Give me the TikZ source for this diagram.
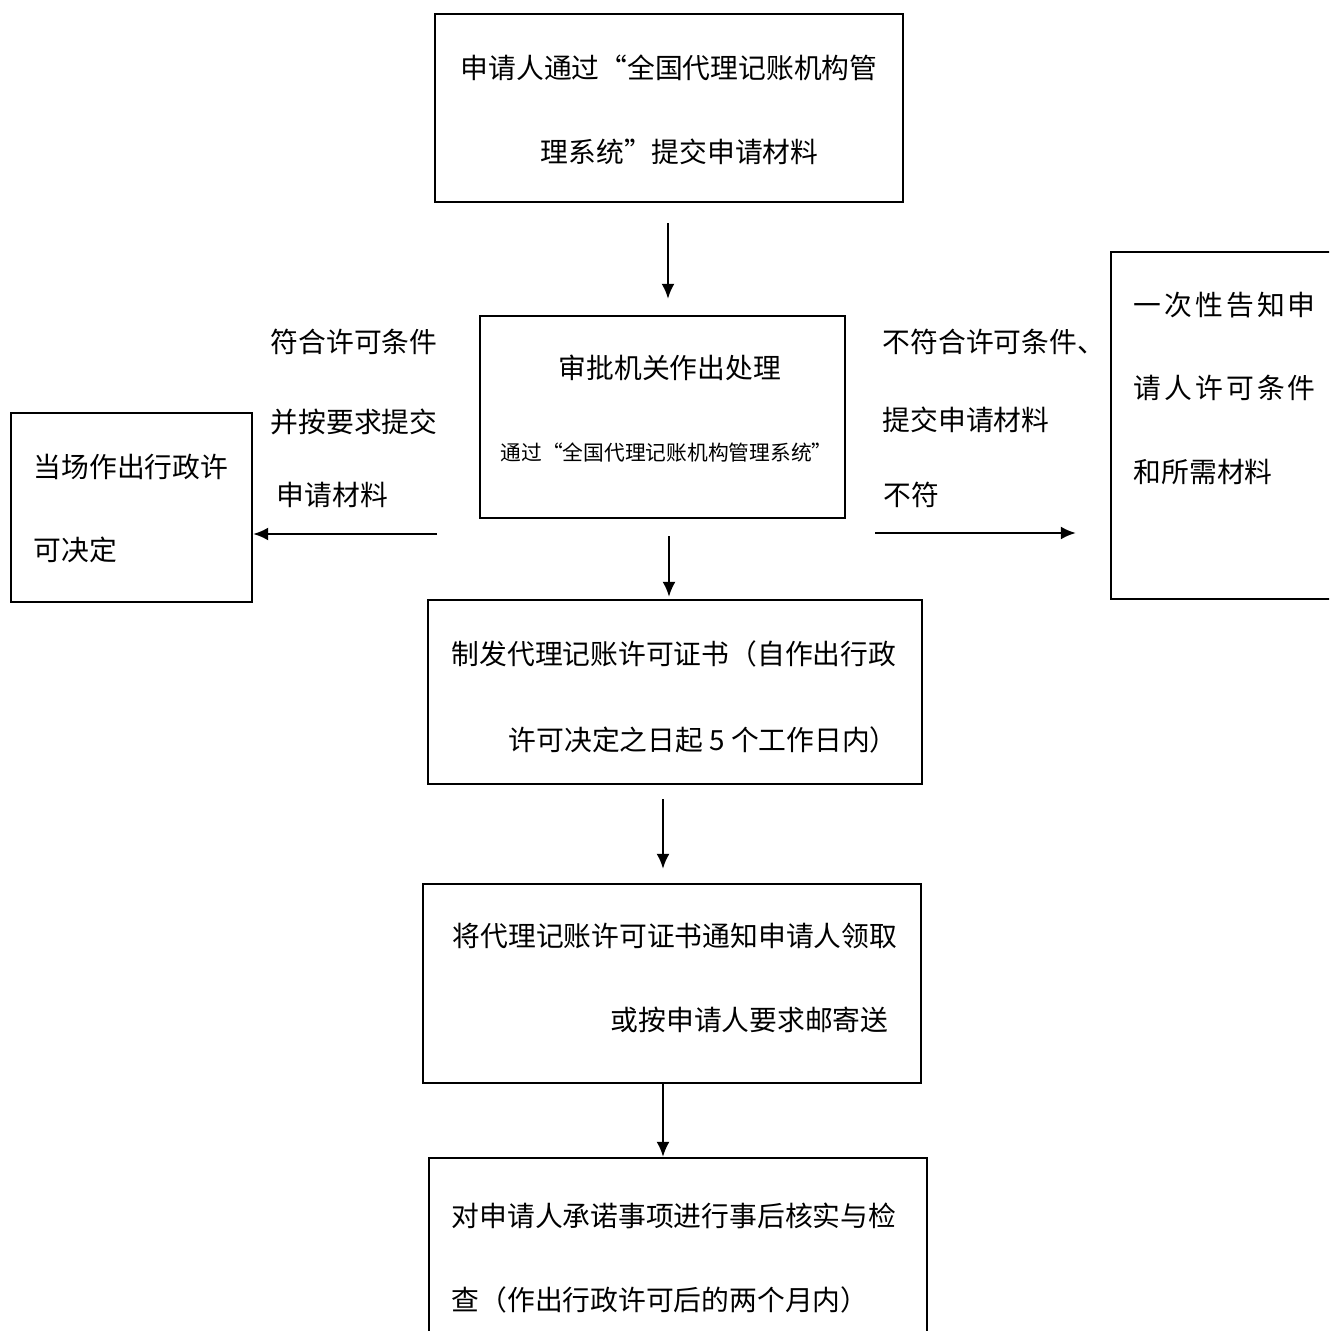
\documentclass[tikz,border=0pt]{standalone}
\usepackage{fontspec}
\newfontfamily\cjk{Noto Sans CJK SC}
\newfontfamily\cjkwide{Noto Sans CJK SC}[LetterSpace=11]
\usetikzlibrary{shapes,arrows,arrows.meta}
\usetikzlibrary{positioning,calc}

\tikzset{
  box/.style={draw, line width=0.022cm, inner sep=0pt},
  txt/.style={font=\cjk\fontsize{7.9}{8}\selectfont, anchor=west, inner sep=0pt},
  smalltxt/.style={font=\cjk\fontsize{5.9}{6}\selectfont, anchor=west, inner sep=0pt},
  widetxt/.style={font=\cjkwide\fontsize{7.9}{8}\selectfont, anchor=west, inner sep=0pt},
  arr/.style={-{Latex[length=0.15cm,width=0.13cm]}, line width=0.022cm}
}

\begin{document}
\begin{tikzpicture}[x=0.01cm, y=-0.01cm]
\clip (0,0) rectangle (1329,1331);

% boxes
\node[box, minimum width=4.68cm, minimum height=1.88cm] (apply) at (669,108) {};
\node[box, minimum width=3.65cm, minimum height=2.02cm] (review) at (662.5,417) {};
\node[box, minimum width=2.41cm, minimum height=1.89cm] (onsite) at (131.5,507.5) {};
\node[box, minimum width=2.49cm, minimum height=3.47cm] (notice) at (1235.5,425.5) {};
\node[box, minimum width=4.94cm, minimum height=1.84cm] (issue) at (675,692) {};
\node[box, minimum width=4.98cm, minimum height=1.99cm] (notify) at (672,983.5) {};
\node[box, minimum width=4.98cm, minimum height=2.02cm] (verify) at (678,1259) {};

% texts in the boxes
\node[txt] (apply1) at (460,68) {申请人通过“全国代理记账机构管};
\node[txt] (apply2) at (540,152) {理系统”提交申请材料};
\node[txt] (review1) at (558,368) {审批机关作出处理};
\node[smalltxt] (review2) at (500,453) {通过“全国代理记账机构管理系统”};
\node[txt] (onsite1) at (33,467) {当场作出行政许};
\node[txt] (onsite2) at (33,550) {可决定};
\node[widetxt] (notice1) at (1133,305) {一次性告知申};
\node[widetxt] (notice2) at (1133,388) {请人许可条件};
\node[txt] (notice3) at (1133,472) {和所需材料};
\node[txt] (issue1) at (451,654) {制发代理记账许可证书（自作出行政};
\node[txt] (issue2) at (508,740) {许可决定之日起 5 个工作日内）};
\node[txt] (notify1) at (452,936) {将代理记账许可证书通知申请人领取};
\node[txt] (notify2) at (610,1020) {或按申请人要求邮寄送};
\node[txt] (verify1) at (451,1216) {对申请人承诺事项进行事后核实与检};
\node[txt] (verify2) at (451,1300) {查（作出行政许可后的两个月内）};

% branch labels
\node[txt] (yes1) at (270,342) {符合许可条件};
\node[txt] (yes2) at (270,422) {并按要求提交};
\node[txt] (yes3) at (276,495) {申请材料};
\node[txt] (no1) at (882,342) {不符合许可条件、};
\node[txt] (no2) at (882,420) {提交申请材料};
\node[txt] (no3) at (883,495) {不符};

% connectors
\coordinate (colA) at (668,0);
\coordinate (colB) at (669,0);
\coordinate (colC) at (663,0);
\coordinate (yesfrom) at (437,534);
\coordinate (nofrom) at (875,533);

\draw[arr, shorten <=0.2cm, shorten >=0.16cm] (apply.south -| colA) -- (review.north -| colA);
\draw[arr, shorten <=0.17cm, shorten >=0.02cm] (review.south -| colB) -- (issue.north -| colB);
\draw[arr, shorten <=0.14cm, shorten >=0.14cm] (issue.south -| colC) -- (notify.north -| colC);
\draw[arr] (notify.south -| colC) -- (verify.north -| colC);
\draw[arr] (yesfrom) -- (yesfrom -| onsite.east);
\draw[arr, shorten >=0.34cm] (nofrom) -- (nofrom -| notice.west);

\end{tikzpicture}
\end{document}
